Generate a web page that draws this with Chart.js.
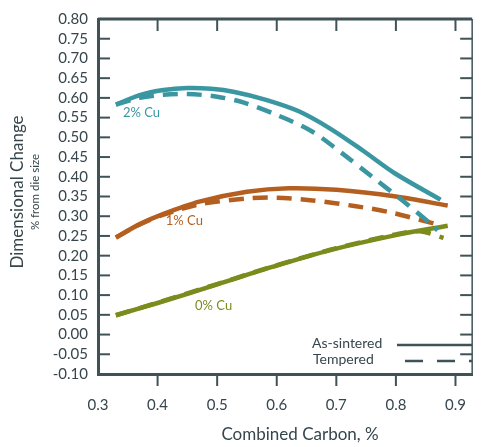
<!DOCTYPE html>
<html>
<head>
<meta charset="utf-8">
<script src="https://cdn.jsdelivr.net/npm/chart.js@4/dist/chart.umd.min.js"></script>
<style>
  html, body { margin: 0; padding: 0; background: #fff; }
  #wrap { width: 488px; height: 447px; position: relative; }
</style>
</head>
<body>
<div id="wrap"><canvas id="chart" width="488" height="447"></canvas></div>
<script>
// ── Data: dimensional change (% from die size) vs combined carbon (%) ──
const xTicks = [0.3, 0.4, 0.5, 0.6, 0.7, 0.8, 0.9];
const yTicks = [-0.10, -0.05, 0.00, 0.05, 0.10, 0.15, 0.20, 0.25, 0.30, 0.35, 0.40, 0.45, 0.50, 0.55, 0.60, 0.65, 0.70, 0.75, 0.80];

const cu2SinteredC = [0.33, 0.37, 0.41, 0.45, 0.49, 0.529, 0.582, 0.637, 0.691, 0.745, 0.798, 0.875];
const cu2SinteredV = [0.583, 0.607, 0.620, 0.625, 0.623, 0.615, 0.595, 0.566, 0.521, 0.466, 0.409, 0.342];
const cu2TemperedC = [0.33, 0.37, 0.41, 0.45, 0.50, 0.545, 0.598, 0.658, 0.711, 0.76, 0.81, 0.856, 0.87];
const cu2TemperedV = [0.583, 0.600, 0.608, 0.610, 0.603, 0.588, 0.558, 0.516, 0.458, 0.400, 0.341, 0.284, 0.264];

const cu1SinteredC = [0.33, 0.37, 0.41, 0.47, 0.55, 0.62, 0.70, 0.80, 0.887];
const cu1SinteredV = [0.246, 0.280, 0.306, 0.337, 0.362, 0.371, 0.367, 0.350, 0.327];
const cu1TemperedC = [0.33, 0.37, 0.41, 0.47, 0.55, 0.60, 0.66, 0.73, 0.79, 0.87];
const cu1TemperedV = [0.246, 0.279, 0.304, 0.330, 0.345, 0.347, 0.340, 0.326, 0.310, 0.279];

const cu0SinteredC = [0.33, 0.40, 0.50, 0.594, 0.69, 0.80, 0.887];
const cu0SinteredV = [0.049, 0.080, 0.127, 0.172, 0.214, 0.252, 0.276];
const cu0TemperedC = [0.33, 0.40, 0.50, 0.594, 0.69, 0.80, 0.84, 0.88];
const cu0TemperedV = [0.049, 0.081, 0.128, 0.173, 0.215, 0.254, 0.262, 0.245];

const seriesLabels = ['2% Cu', '1% Cu', '0% Cu'];
const labelPos = [[0.373, 0.563], [0.445, 0.289], [0.494, 0.072]];

const TEAL = '#3a97a2', RUST = '#b45f1f', OLIVE = '#7b8b1c';
const INK = '#36464c', AXIS = '#3f5357';
const FONT = 'Lato, "Open Sans", sans-serif';

const pts = (cs, vs) => cs.map((c, i) => ({ x: c, y: vs[i] }));

function line(label, cs, vs, color, dashed) {
    return {
        label, data: pts(cs, vs), borderColor: color, borderWidth: 4.5,
        borderDash: dashed ? [15, 9] : [], borderCapStyle: 'butt',
        pointRadius: 0, tension: 0.3, fill: false
    };
}

// ── Frame, inward ticks, curve labels and legend ──
const decorations = {
    id: 'decorations',
    afterDraw(chart) {
        const { ctx, chartArea: a, scales: { x, y } } = chart;
        ctx.save();
        ctx.strokeStyle = AXIS;
        // top and right borders
        ctx.lineWidth = 3;
        ctx.beginPath(); ctx.moveTo(a.left, a.top); ctx.lineTo(a.right, a.top); ctx.stroke();
        ctx.lineWidth = 1.5;
        ctx.beginPath(); ctx.moveTo(a.right, a.top); ctx.lineTo(a.right, a.bottom); ctx.stroke();
        // ticks
        ctx.lineWidth = 2;
        xTicks.slice(1).forEach(v => {
            const px = x.getPixelForValue(v);
            ctx.beginPath(); ctx.moveTo(px, a.top); ctx.lineTo(px, a.top + 12); ctx.stroke();
            ctx.beginPath(); ctx.moveTo(px, a.bottom); ctx.lineTo(px, a.bottom + 12); ctx.stroke();
        });
        yTicks.slice(1, -1).forEach(v => {
            const py = y.getPixelForValue(v);
            ctx.beginPath(); ctx.moveTo(a.left, py); ctx.lineTo(a.left + 12, py); ctx.stroke();
            ctx.beginPath(); ctx.moveTo(a.right, py); ctx.lineTo(a.right - 12, py); ctx.stroke();
        });
        // curve labels
        ctx.font = '13px ' + FONT;
        ctx.textAlign = 'center'; ctx.textBaseline = 'middle';
        [TEAL, RUST, OLIVE].forEach((c, i) => {
            ctx.fillStyle = c;
            ctx.fillText(seriesLabels[i], x.getPixelForValue(labelPos[i][0]), y.getPixelForValue(labelPos[i][1]));
        });
        // legend
        ctx.fillStyle = INK;
        ctx.textAlign = 'left';
        ctx.font = '14px ' + FONT;
        ctx.fillText('As-sintered', 312, 343);
        ctx.fillText('Tempered', 313, 359);
        ctx.strokeStyle = AXIS; ctx.lineWidth = 2.5;
        ctx.beginPath(); ctx.moveTo(397, 345); ctx.lineTo(472, 345); ctx.stroke();
        ctx.setLineDash([18, 14]);
        ctx.beginPath(); ctx.moveTo(405, 361); ctx.lineTo(472, 361); ctx.stroke();
        ctx.setLineDash([]);
        // axis titles
        ctx.fillStyle = INK;
        ctx.textAlign = 'center';
        ctx.font = '17px ' + FONT;
        ctx.fillText('Combined Carbon, %', 300, 435);
        ctx.translate(18, 192);
        ctx.rotate(-Math.PI / 2);
        ctx.fillText('Dimensional Change', 0, 0);
        ctx.font = '11.5px ' + FONT;
        ctx.fillText('% from die size', 0, 17);
        ctx.restore();
    }
};

new Chart(document.getElementById('chart'), {
    type: 'line',
    data: {
        datasets: [
            line('2% Cu tempered', cu2TemperedC, cu2TemperedV, TEAL, true),
            line('2% Cu as-sintered', cu2SinteredC, cu2SinteredV, TEAL, false),
            line('1% Cu as-sintered', cu1SinteredC, cu1SinteredV, RUST, false),
            line('1% Cu tempered', cu1TemperedC, cu1TemperedV, RUST, true),
            line('0% Cu tempered', cu0TemperedC, cu0TemperedV, OLIVE, true),
            line('0% Cu as-sintered', cu0SinteredC, cu0SinteredV, OLIVE, false)
        ]
    },
    options: {
        responsive: false, animation: false,
        layout: { padding: { top: 13, right: 1, left: 0, bottom: 0 } },
        plugins: { legend: { display: false }, tooltip: { enabled: false } },
        scales: {
            x: {
                type: 'linear', min: 0.3, max: 0.928,
                afterBuildTicks: s => { s.ticks = xTicks.map(v => ({ value: v })); },
                afterFit: s => { s.height = 73; },
                grid: { display: false, drawTicks: false },
                border: { display: true, color: AXIS, width: 3 },
                ticks: { padding: 22, autoSkip: false, maxRotation: 0, color: INK, font: { family: FONT, size: 15 }, callback: v => v.toFixed(1) }
            },
            y: {
                type: 'linear', min: -0.1, max: 0.8,
                afterBuildTicks: s => { s.ticks = yTicks.map(v => ({ value: v })); },
                afterFit: s => { s.width = 98; },
                grid: { display: false, drawTicks: false },
                border: { display: true, color: AXIS, width: 3 },
                ticks: { padding: 10, autoSkip: false, color: INK, font: { family: FONT, size: 15 }, callback: v => v.toFixed(2) }
            }
        }
    },
    plugins: [decorations]
});
</script>
</body>
</html>
